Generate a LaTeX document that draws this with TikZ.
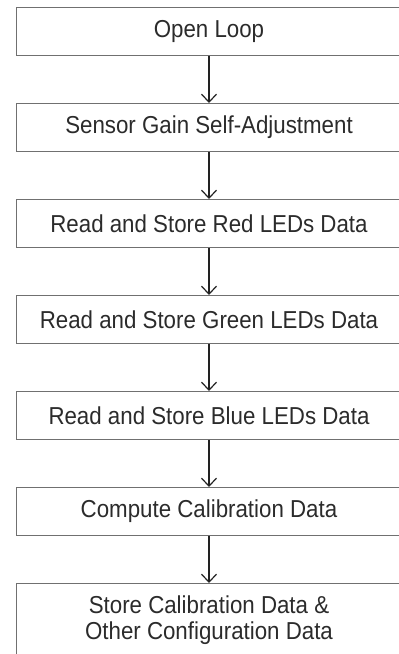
\documentclass[tikz,border=0pt]{standalone}
\usepackage{fontspec}
\setmainfont{Liberation Sans}[FakeStretch=0.91]
\usetikzlibrary{arrows.meta}
\definecolor{boxline}{HTML}{707070}
\definecolor{inktext}{HTML}{2B2B2B}
\definecolor{inkarrow}{HTML}{222222}
\begin{document}
\begin{tikzpicture}[x=1pt,y=-1pt]

        \clip (0,0) rectangle (399,654);
        \useasboundingbox (0,0) rectangle (399,654);

        \begin{scope}[every node/.style={rectangle,draw=boxline,line width=1pt,
            minimum width=386pt,minimum height=48pt,text=inktext,align=center,
            font=\fontsize{24.5}{26}\selectfont}]
          \node (open)    at (209,31.5)  {Open Loop};
          \node (gain)    at (209,127.5) {Sensor Gain Self-Adjustment};
          \node (red)     at (209,223.5) {Read and Store Red LEDs Data};
          \node (green)   at (209,319.5) {Read and Store Green LEDs Data};
          \node (blue)    at (209,415.5) {Read and Store Blue LEDs Data};
          \node (compute) at (209,511.5) {Compute Calibration Data};
          \node[minimum height=74pt] (store) at (209,620.5)
            {Store Calibration Data \&\\Other Configuration Data};
        \end{scope}

        \begin{scope}[every path/.style={draw=inkarrow,line width=1.2pt,
            -{Straight Barb[length=8pt,width=15pt]}}]
          \path (open)    edge (gain);
          \path (gain)    edge (red);
          \path (red)     edge (green);
          \path (green)   edge (blue);
          \path (blue)    edge (compute);
          \path (compute) edge (store);
        \end{scope}

      \end{tikzpicture}
\end{document}
